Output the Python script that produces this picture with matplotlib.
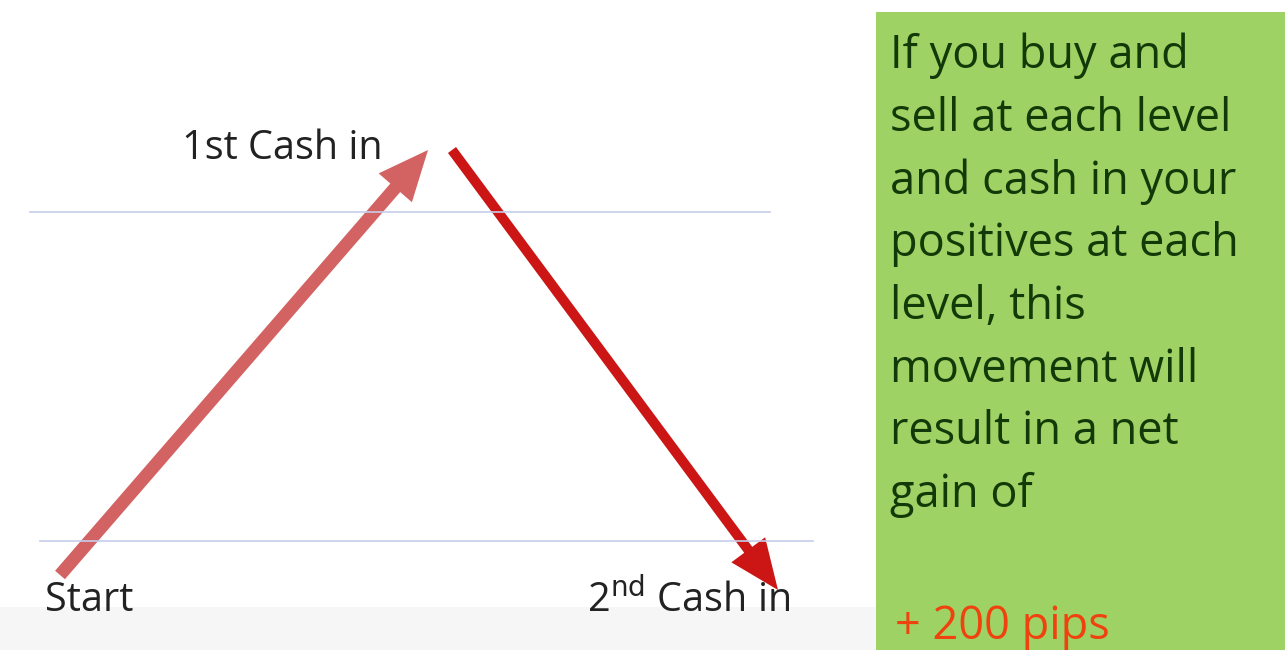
import matplotlib.pyplot as plt
from matplotlib.patches import FancyArrow, Rectangle

# levels (pixel rows of the picture)
level_y = [212, 541]
level_x = [(30, 770), (40, 813)]

# moves: start -> 1st cash in -> 2nd cash in
move_up = [(60, 575), (428, 150)]
move_down = [(452, 150), (778, 590)]

labels = ["1st Cash in", "Start", "Cash in"]
box_lines = ["If you buy and", "sell at each level", "and cash in your",
             "positives at each", "level, this", "movement will",
             "result in a net", "gain of"]
result = "+ 200 pips"

fig = plt.figure(figsize=(12.85, 6.5), dpi=100)
ax = fig.add_axes([0, 0, 1, 1])
ax.set_xlim(0, 1285)
ax.set_ylim(650, 0)
ax.axis("off")

# light grey band at bottom
ax.add_patch(Rectangle((0, 607), 880, 45, color="#f6f6f6", lw=0))

for y, (x0, x1) in zip(level_y, level_x):
    ax.plot([x0, x1], [y, y], color="#c6cdea", lw=1.2)

def arrow(p0, p1, color, width, head_w, head_l):
    dx = p1[0] - p0[0]
    dy = p1[1] - p0[1]
    ax.add_patch(FancyArrow(p0[0], p0[1], dx, dy, width=width,
                            head_width=head_w, head_length=head_l,
                            length_includes_head=True, color=color, lw=0))

arrow(move_up[0], move_up[1], "#d36262", 13, 44, 50)
arrow(move_down[0], move_down[1], "#cc1515", 10, 42, 50)

font = "Open Sans"
ax.text(182, 149, labels[0], fontsize=28.5, family=font, va="center", ha="left", color="#222222")
ax.text(45, 601, labels[1], fontsize=28.5, family=font, va="center", ha="left", color="#222222")
ax.text(790, 601, "2$^{\\mathrm{nd}}$ " + labels[2], fontsize=28.5, family=font,
        va="center", ha="right", color="#222222")

# green box
ax.add_patch(Rectangle((876, 12), 409, 640, color="#9fd264", lw=0))
for i, line in enumerate(box_lines):
    ax.text(890, 56 + i * 62.7, line, fontsize=32.5, family=font,
            va="center", ha="left", color="#123a08")
ax.text(895, 627, result, fontsize=32.5, family=font, va="center", ha="left", color="#f0420e")

fig.savefig("out.png", dpi=100)
